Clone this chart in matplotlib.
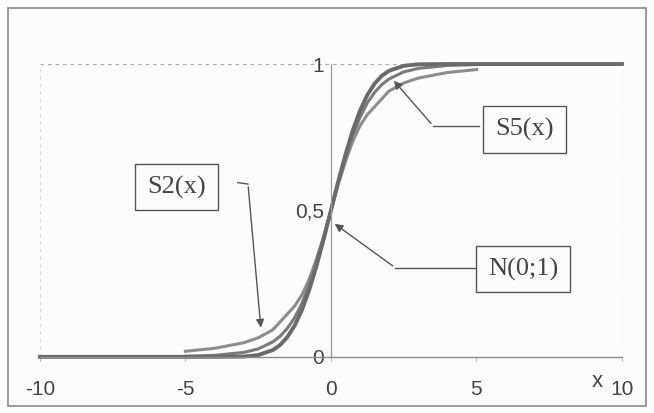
import matplotlib.pyplot as plt
from matplotlib.patches import Rectangle

# values (CDF curves)
x_norm = [-10, -4, -3, -2.5, -2, -1.75, -1.5, -1.25, -1, -0.75, -0.5, -0.25, 0,
          0.25, 0.5, 0.75, 1, 1.25, 1.5, 1.75, 2, 2.5, 3, 4, 10]
y_norm = [0.0, 0.0, 0.001, 0.006, 0.023, 0.040, 0.067, 0.106, 0.159, 0.227, 0.309, 0.401, 0.5,
          0.599, 0.691, 0.773, 0.841, 0.894, 0.933, 0.960, 0.977, 0.994, 0.999, 1.0, 1.0]

x_s2 = [-5, -4, -3, -2.5, -2, -1.5, -1.25, -1, -0.75, -0.5, -0.25, 0,
        0.25, 0.5, 0.75, 1, 1.25, 1.5, 2, 2.5, 3, 4, 5]
y_s2 = [0.019, 0.029, 0.048, 0.065, 0.092, 0.146, 0.173, 0.211, 0.264, 0.333, 0.412, 0.5,
        0.588, 0.667, 0.736, 0.789, 0.827, 0.854, 0.908, 0.935, 0.952, 0.971, 0.981]

x_s5 = [-5, -4, -3, -2.5, -2, -1.75, -1.5, -1.25, -1, -0.75, -0.5, -0.25, 0,
        0.25, 0.5, 0.75, 1, 1.25, 1.5, 1.75, 2, 2.5, 3, 4, 5]
y_s5 = [0.002, 0.005, 0.015, 0.027, 0.051, 0.070, 0.097, 0.133, 0.182, 0.244, 0.319, 0.406, 0.5,
        0.594, 0.681, 0.756, 0.818, 0.867, 0.903, 0.930, 0.949, 0.973, 0.985, 0.995, 0.998]

x_ticks = [-10, -5, 0, 5, 10]
x_labels = ["-10", "-5", "0", "5", "10"]
y_ticks = [0, 0.5, 1]
y_labels = ["0", "0,5", "1"]

fig = plt.figure(figsize=(6.54, 4.13), dpi=100)
fig.patch.set_facecolor("#fcfcfc")
ax = fig.add_axes([0.061, 0.136, 0.890, 0.709])
ax.set_facecolor("#fcfcfc")

# outer frame of the scanned picture
fig.patches.append(Rectangle((0.012, 0.018), 0.976, 0.962, transform=fig.transFigure,
                             fill=False, edgecolor="#8a8a8a", lw=1.2))

ax.plot(x_s2, y_s2, color="#8c8c8c", lw=2.2, clip_on=False, solid_joinstyle="round")
ax.plot(x_s5, y_s5, color="#7a7a7a", lw=2.2, clip_on=False, solid_joinstyle="round")
ax.plot(x_norm, y_norm, color="#6a6a6a", lw=2.8, clip_on=False, solid_joinstyle="round")

ax.set_xlim(-10, 10)
ax.set_ylim(0, 1)

ax.spines["left"].set_position(("data", 0))
ax.spines["left"].set_color("#9a9a9a")
ax.spines["left"].set_linewidth(0.9)
ax.spines["bottom"].set_color("#8a8a8a")
ax.spines["bottom"].set_linewidth(1.0)
ax.spines["top"].set_visible(False)
ax.spines["right"].set_visible(False)
ax.axhline(1, color="#b0b0b0", lw=0.9, ls=(0, (3, 3)), zorder=0)
ax.axvline(10, color="#cfcfcf", lw=0.9, ls=(0, (3, 3)), zorder=0)
ax.axvline(-10, color="#dddddd", lw=0.9, ls=(0, (3, 3)), zorder=0)

ax.set_xticks(x_ticks)
ax.set_xticklabels(x_labels)
ax.set_yticks(y_ticks)
ax.set_yticklabels(y_labels)
ax.tick_params(axis="x", length=3, color="#bbbbbb", pad=14, labelsize=15, labelcolor="#444444")
ax.tick_params(axis="y", length=0, pad=5, labelsize=15, labelcolor="#444444")
for lbl in ax.get_xticklabels() + ax.get_yticklabels():
    lbl.set_fontfamily("Liberation Sans")

ax.text(9.15, -0.085, "x", fontsize=16, fontfamily="Liberation Sans", color="#444444",
        ha="center", va="center")

box = dict(boxstyle="square,pad=0.45", fc="#fcfcfc", ec="#555555", lw=1.0)
tkw = dict(fontsize=19, fontfamily="Liberation Serif", color="#444444", ha="center", va="center", bbox=box)
ax.text(-5.3, 0.58, "S2(x)", **tkw)
ax.text(6.65, 0.775, "S5(x)", **tkw)
ax.text(6.6, 0.30, "N(0;1)", **tkw)

lkw = dict(color="#555555", lw=1.0)
akw = dict(arrowstyle="-|>", color="#555555", lw=1.0, mutation_scale=12)
# S2 connector
ax.plot([-3.2, -2.85], [0.595, 0.59], **lkw)
ax.annotate("", xy=(-2.4, 0.09), xytext=(-2.85, 0.59), arrowprops=akw)
# S5 connector
ax.plot([5.1, 3.5], [0.79, 0.79], **lkw)
ax.annotate("", xy=(2.1, 0.95), xytext=(3.5, 0.79), arrowprops=akw)
# N(0;1) connector
ax.plot([5.0, 2.2], [0.305, 0.305], **lkw)
ax.annotate("", xy=(0.05, 0.46), xytext=(2.2, 0.305), arrowprops=akw)

fig.savefig("out.png", dpi=100, facecolor=fig.get_facecolor())
